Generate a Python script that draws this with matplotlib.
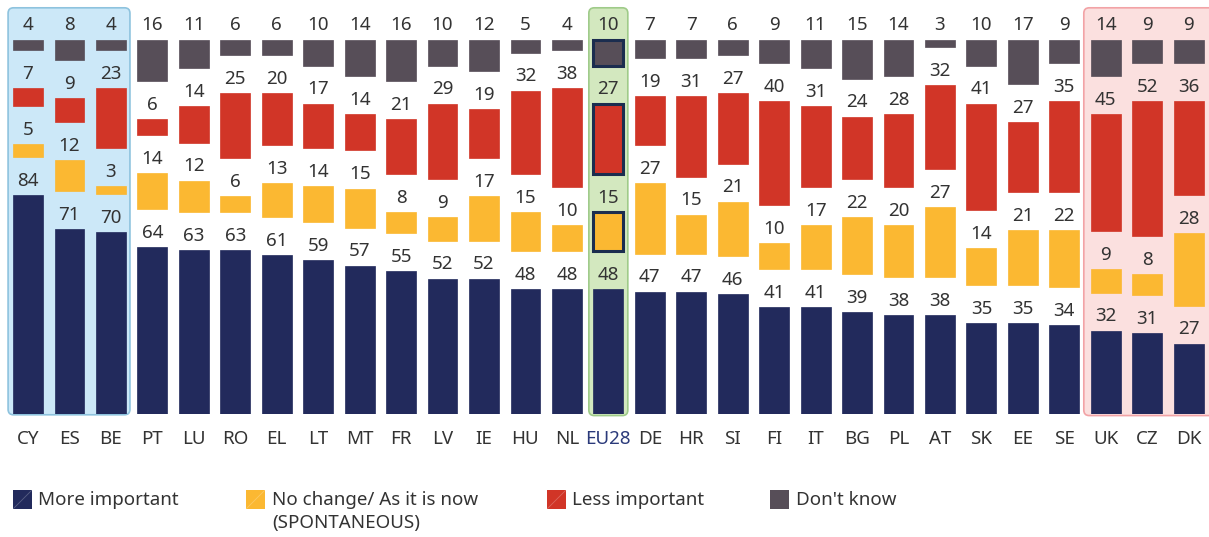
import matplotlib.pyplot as plt
from matplotlib.patches import FancyBboxPatch, Rectangle

countries = ['CY', 'ES', 'BE', 'PT', 'LU', 'RO', 'EL', 'LT', 'MT', 'FR', 'LV', 'IE', 'HU', 'NL', 'EU28',
             'DE', 'HR', 'SI', 'FI', 'IT', 'BG', 'PL', 'AT', 'SK', 'EE', 'SE', 'UK', 'CZ', 'DK']
more_important = [84, 71, 70, 64, 63, 63, 61, 59, 57, 55, 52, 52, 48, 48, 48,
                  47, 47, 46, 41, 41, 39, 38, 38, 35, 35, 34, 32, 31, 27]
no_change = [5, 12, 3, 14, 12, 6, 13, 14, 15, 8, 9, 17, 15, 10, 15,
             27, 15, 21, 10, 17, 22, 20, 27, 14, 21, 22, 9, 8, 28]
less_important = [7, 9, 23, 6, 14, 25, 20, 17, 14, 21, 29, 19, 32, 38, 27,
                  19, 31, 27, 40, 31, 24, 28, 32, 41, 27, 35, 45, 52, 36]
dont_know = [4, 8, 4, 16, 11, 6, 6, 10, 14, 16, 10, 12, 5, 4, 10,
             7, 7, 6, 9, 11, 15, 14, 3, 10, 17, 9, 14, 9, 9]

series = [more_important, no_change, less_important, dont_know]
colors = ['#222a5c', '#fbb832', '#d13527', '#574e58']
legend_labels = ['More important', 'No change/ As it is now\n(SPONTANEOUS)', 'Less important', "Don't know"]

plt.rcParams['font.family'] = ['Noto Sans', 'DejaVu Sans']

fig = plt.figure(figsize=(12.09, 5.37), dpi=100)
ax = fig.add_axes([0, 1 - 414 / 537, 1, 414 / 537])
ax.set_xlim(-0.675, 28.49)
ax.set_ylim(0, 159)
ax.axis('off')

gap = 14.6
width = 0.72


def box(x0, x1, y0, y1, face, edge):
    p = FancyBboxPatch((x0, y0), x1 - x0, y1 - y0,
                       boxstyle='round,pad=0,rounding_size=0.13',
                       mutation_aspect=16, facecolor=face, edgecolor=edge,
                       linewidth=1.2, zorder=0, clip_on=False)
    ax.add_patch(p)


box(-0.48, 2.46, -0.3, 156, '#cce8f8', '#8ec3de')
box(13.53, 14.47, -0.6, 156, '#d3e8bf', '#9fcb89')
box(25.47, 28.9, -0.6, 156, '#fbe0df', '#f2a3a6')

eu = countries.index('EU28')
for i, c in enumerate(countries):
    bottom = 0
    for k, vals in enumerate(series):
        v = vals[i]
        is_eu = i == eu and k > 0
        ax.bar(i, v, width=width, bottom=bottom, color=colors[k],
               edgecolor='#1b2d4f' if is_eu else colors[k],
               linewidth=2.2 if is_eu else 0.5, zorder=2)
        ax.text(i, bottom + v + 2.0, str(v), ha='center', va='bottom',
                fontsize=13.5, color='#333333', zorder=3)
        bottom += v + gap
    ax.text(i, -6.0, c, ha='center', va='top', fontsize=13.5,
            color='#2b3a7a' if i == eu else '#333333', clip_on=False)

# legend drawn by hand in figure pixels
legend_x = [13, 246, 547, 770]
text_x = [38, 272, 572, 796]
for k, lab in enumerate(legend_labels):
    x = legend_x[k] / 1209
    y = 1 - 509 / 537
    fig.patches.append(Rectangle((x, y), 19 / 1209, 19 / 537,
                                 transform=fig.transFigure, facecolor=colors[k],
                                 edgecolor='none'))
    if k < 3:
        fig.lines.append(plt.Line2D([x, x + 19 / 1209], [y, y + 19 / 537],
                                    transform=fig.transFigure, color='white',
                                    alpha=0.25, linewidth=0.6))
    lines = lab.split('\n')
    for j, line in enumerate(lines):
        fig.text(text_x[k] / 1209, 1 - (500 + 23 * j) / 537, line, ha='left', va='center',
                 fontsize=13.5, color='#333333')

fig.savefig('out.png', dpi=100)
